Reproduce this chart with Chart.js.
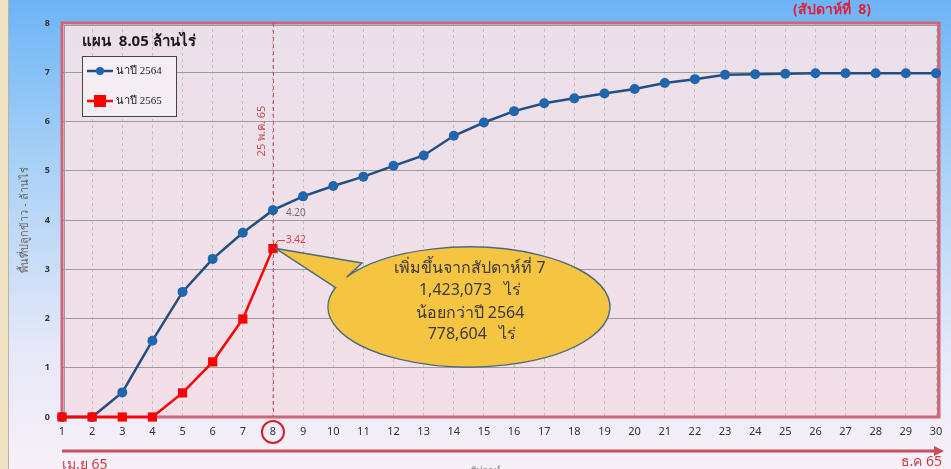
<!DOCTYPE html>
<html>
<head>
<meta charset="utf-8">
<script src="https://cdn.jsdelivr.net/npm/chart.js@4/dist/chart.umd.min.js"></script>
<style>
  body { margin: 0; background: #ffffff; }
  #wrap { width: 951px; height: 469px; position: relative; }
</style>
</head>
<body>
<div id="wrap"><canvas id="riceChart"></canvas></div>
<script>
// weeks (Apr 65 -> Dec 65)
const weeks = ['1','2','3','4','5','6','7','8','9','10','11','12','13','14','15',
  '16','17','18','19','20','21','22','23','24','25','26','27','28','29','30'];
// planted area, million rai
const area2564 = [0, 0, 0.5, 1.55, 2.54, 3.21, 3.74, 4.20, 4.48, 4.69, 4.88, 5.1, 5.31, 5.71,
  5.98, 6.21, 6.37, 6.47, 6.57, 6.66, 6.78, 6.86, 6.95, 6.96, 6.97, 6.98, 6.98, 6.98, 6.98, 6.98];
const area2565 = [0, 0, 0, 0, 0.49, 1.12, 1.99, 3.42];
const seriesNames = ['นาปี 2564', 'นาปี 2565'];
const yTicks = [0, 1, 2, 3, 4, 5, 6, 7, 8];
const currentWeek = 8;

const FONT = "'Noto Sans', 'Open Sans', sans-serif";

// background, plot box, annotations
const decor = {
    id: 'decor',
    beforeDraw(chart) {
        const { ctx, chartArea: a, width, height } = chart;
        ctx.save();
        const g = ctx.createLinearGradient(0, 0, 0, height);
        g.addColorStop(0, '#6db4f7');
        g.addColorStop(0.35, '#a9d1f6');
        g.addColorStop(0.75, '#e6e8f8');
        g.addColorStop(1, '#f8f0f8');
        ctx.fillStyle = g;
        ctx.fillRect(0, 0, width, height);
        // left strip
        ctx.fillStyle = '#efe3c4';
        ctx.fillRect(0, 0, 8, height);
        ctx.fillStyle = '#b9b3a6';
        ctx.fillRect(8, 0, 1, height);
        // plot fill
        const pg = ctx.createLinearGradient(0, a.top, 0, a.bottom);
        pg.addColorStop(0, '#ebe0ea');
        pg.addColorStop(1, '#f3dfe8');
        ctx.fillStyle = pg;
        ctx.fillRect(a.left, a.top, a.right - a.left + 3, a.bottom - a.top);
        ctx.restore();
    },
    beforeDatasetsDraw(chart) {
        const { ctx, chartArea: a, scales: { x } } = chart;
        ctx.save();
        // plot border
        ctx.strokeStyle = '#9a9aa0';
        ctx.lineWidth = 1;
        ctx.strokeRect(a.left + 2.5, a.top + 2.5, a.right - a.left - 1, a.bottom - a.top - 3);
        ctx.strokeStyle = '#cf6677';
        ctx.lineWidth = 3;
        ctx.strokeRect(a.left, a.top, a.right - a.left + 3, a.bottom - a.top);
        // current week marker
        const xp = x.getPixelForValue(currentWeek - 1);
        ctx.strokeStyle = '#c8505a';
        ctx.lineWidth = 1;
        ctx.setLineDash([4, 3]);
        ctx.beginPath();
        ctx.moveTo(xp + 0.5, a.top);
        ctx.lineTo(xp + 0.5, a.bottom);
        ctx.stroke();
        ctx.setLineDash([]);
        ctx.translate(xp - 11, 131);
        ctx.rotate(-Math.PI / 2);
        ctx.fillStyle = '#c0504d';
        ctx.font = '11px ' + FONT;
        ctx.textAlign = 'center';
        ctx.textBaseline = 'middle';
        ctx.fillText('25 พ.ค. 65', 0, 0);
        ctx.restore();
    },
    afterDatasetsDraw(chart) {
        const { ctx, chartArea: a, scales: { x, y } } = chart;
        ctx.save();
        // title
        ctx.fillStyle = '#1a1a1a';
        ctx.font = 'bold 15px ' + FONT;
        ctx.textBaseline = 'middle';
        ctx.fillText('แผน  8.05 ล้านไร่', 82, 42);

        // legend
        ctx.fillStyle = '#f4eef3';
        ctx.fillRect(82, 56, 94, 60);
        ctx.strokeStyle = '#444';
        ctx.lineWidth = 1;
        ctx.strokeRect(82.5, 56.5, 94, 60);
        ctx.font = "11px 'Liberation Serif', serif";
        ctx.fillStyle = '#222';
        // blue entry
        ctx.strokeStyle = '#234f80';
        ctx.lineWidth = 2.5;
        ctx.beginPath(); ctx.moveTo(87, 71); ctx.lineTo(113, 71); ctx.stroke();
        ctx.fillStyle = '#1f66ad';
        ctx.beginPath(); ctx.arc(100, 71, 4, 0, Math.PI * 2); ctx.fill();
        ctx.fillStyle = '#222';
        ctx.fillText(seriesNames[0], 116, 71);
        // red entry
        ctx.strokeStyle = '#ff0000';
        ctx.beginPath(); ctx.moveTo(87, 101); ctx.lineTo(113, 101); ctx.stroke();
        ctx.fillStyle = '#ff0000';
        ctx.fillRect(94, 95, 12, 12);
        ctx.fillStyle = '#222';
        ctx.fillText(seriesNames[1], 116, 101);

        // value labels at current week
        const i = currentWeek - 1;
        const pb = chart.getDatasetMeta(0).data[i];
        const pr = chart.getDatasetMeta(1).data[i];
        ctx.font = '10px ' + FONT;
        ctx.fillStyle = '#707070';
        ctx.fillText(area2564[i].toFixed(2), pb.x + 13, pb.y + 3);
        ctx.strokeStyle = '#e03030';
        ctx.lineWidth = 1;
        ctx.beginPath(); ctx.moveTo(pr.x + 2, pr.y - 4); ctx.lineTo(pr.x + 5, pr.y - 8); ctx.lineTo(pr.x + 12, pr.y - 8); ctx.stroke();
        ctx.fillStyle = '#e03a3a';
        ctx.fillText(area2565[i].toFixed(2), pr.x + 13, pr.y - 8);

        // callout
        const cx = 469, cy = 307, rx = 141, ry = 60;
        ctx.beginPath();
        ctx.moveTo(pr.x + 3, pr.y);
        ctx.lineTo(362, 263);
        ctx.ellipse(cx, cy, rx, ry, 0, Math.PI * 1.165, Math.PI * 3.105 );
        ctx.lineTo(pr.x + 3, pr.y);
        ctx.closePath();
        ctx.fillStyle = '#f5c542';
        ctx.fill();
        ctx.strokeStyle = '#4d6a7c';
        ctx.lineWidth = 1.5;
        ctx.stroke();
        ctx.fillStyle = '#3a3a3a';
        ctx.font = '16px ' + FONT;
        ctx.textAlign = 'center';
        ctx.fillText('เพิ่มขึ้นจากสัปดาห์ที่ 7', 470, 268);
        ctx.fillText('1,423,073   ไร่', 470, 290);
        ctx.fillText('น้อยกว่าปี 2564', 470, 313);
        ctx.fillText('778,604   ไร่', 472, 334);

        // circle around current week tick
        const xp = x.getPixelForValue(i);
        ctx.strokeStyle = '#d02030';
        ctx.lineWidth = 2;
        ctx.beginPath(); ctx.arc(xp, 432, 11, 0, Math.PI * 2); ctx.stroke();

        // bottom arrow
        ctx.strokeStyle = '#c4505e';
        ctx.lineWidth = 3;
        ctx.beginPath(); ctx.moveTo(a.left, 451); ctx.lineTo(a.right, 451); ctx.stroke();
        ctx.fillStyle = '#c4505e';
        ctx.beginPath(); ctx.moveTo(a.right + 8, 451); ctx.lineTo(a.right - 2, 446); ctx.lineTo(a.right - 2, 456); ctx.closePath(); ctx.fill();
        ctx.font = '14px ' + FONT;
        ctx.fillStyle = '#c0404a';
        ctx.textAlign = 'left';
        ctx.fillText('เม.ย 65', 62, 465);
        ctx.textAlign = 'right';
        ctx.fillText('ธ.ค 65', 942, 462);
        ctx.textAlign = 'center';
        ctx.fillStyle = '#888';
        ctx.font = '10px ' + FONT;
        ctx.fillText('สัปดาห์', 485, 471);
        // week header
        ctx.fillStyle = '#e0203a';
        ctx.font = 'bold 14px ' + FONT;
        ctx.fillText('(สัปดาห์ที่  8)', 832, 10);
        ctx.restore();
    }
};

new Chart(document.getElementById('riceChart'), {
    type: 'line',
    data: {
        labels: weeks,
        datasets: [{
            label: seriesNames[0],
            data: area2564,
            order: 2,
            clip: false,
            borderColor: '#234f80',
            backgroundColor: '#1f66ad',
            borderWidth: 2.5,
            pointRadius: 5,
            pointBorderWidth: 0,
            tension: 0
        }, {
            label: seriesNames[1],
            data: area2565,
            order: 1,
            clip: false,
            borderColor: '#ff0000',
            backgroundColor: '#ff0000',
            borderWidth: 2.5,
            pointStyle: 'rect',
            pointRadius: 6.5,
            pointBorderWidth: 0,
            tension: 0
        }]
    },
    options: {
        responsive: true,
        maintainAspectRatio: false,
        animation: false,
        layout: { padding: { top: 23, right: 15 } },
        plugins: {
            legend: { display: false },
            tooltip: { enabled: false }
        },
        scales: {
            x: {
                offset: false,
                afterFit: s => { s.height = 52; },
                grid: { color: '#c9bdc8', drawTicks: false, tickBorderDash: [3, 3] },
                border: { display: false, dash: [3, 3] },
                ticks: { padding: 8, color: '#333', font: { size: 11, family: FONT } }
            },
            y: {
                min: 0,
                max: 8,
                afterFit: s => { s.width = 62; },
                afterBuildTicks: s => { s.ticks = yTicks.map(v => ({ value: v })); },
                grid: { color: '#9c9c9c', drawTicks: false },
                border: { display: false },
                ticks: { padding: 12, color: '#333', font: { size: 9, weight: 'bold', family: FONT } },
                title: {
                    display: true,
                    text: 'พื้นที่ปลูกข้าว - ล้านไร่',
                    color: '#666',
                    font: { size: 11, family: FONT },
                    padding: { top: 18, bottom: 0 }
                }
            }
        }
    },
    plugins: [decor]
});
</script>
</body>
</html>
